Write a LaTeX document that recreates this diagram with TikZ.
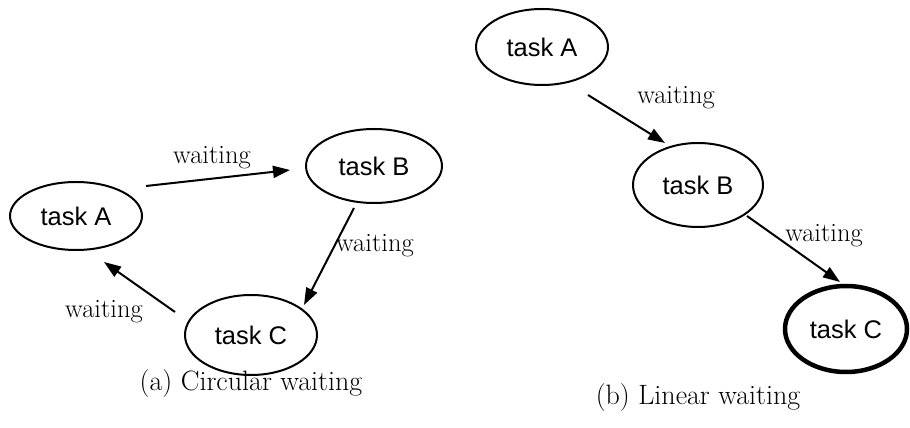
\documentclass[tikz,border=0pt]{standalone}
\usepackage{fontspec}
\newfontfamily\helv{Liberation Sans}
\usetikzlibrary{arrows.meta,calc,shapes.geometric}
\tikzset{
  task/.style={ellipse,draw,line width=2pt,inner sep=0pt,font=\helv\fontsize{25.5}{28}\selectfont},
  arr/.style={line width=2pt,-{Triangle[length=17pt,width=12pt]}},
  lbl/.style={font=\fontsize{26.5}{30}\selectfont,inner sep=0pt},
  captext/.style={font=\fontsize{28}{32}\selectfont,inner sep=0pt}
}
\begin{document}
\begin{tikzpicture}[x=1pt,y=1pt]
\useasboundingbox (0,0) rectangle (910,428);
% (a) circular
\node[task,minimum width=132pt,minimum height=68pt] (lA) at (76,212) {task A};
\node[task,minimum width=136pt,minimum height=74pt] (lB) at (374,262) {task B};
\node[task,minimum width=132pt,minimum height=80pt] (lC) at (251,93) {task C};
\draw[arr] ($(lA)+(70,30)$) -- ($(lB)+(-84,-4)$);
\draw[arr] ($(lB)+(-20,-42)$) -- ($(lC)+(53,30)$);
\draw[arr] ($(lC)+(-76,23)$) -- ($(lA)+(28,-46)$);
\node[lbl] (la1) at (212,270) {waiting};
\node[lbl,anchor=west] (la2) at (336,182) {waiting};
\node[lbl] (la3) at (104,116) {waiting};
\node[captext] (capa) at (251,44) {(a) Circular waiting};
% (b) linear
\node[task,minimum width=132pt,minimum height=76pt] (rA) at (542,381) {task A};
\node[task,minimum width=130pt,minimum height=84pt] (rB) at (698,243) {task B};
\node[task,line width=4.5pt,minimum width=122pt,minimum height=86pt] (rC) at (846,99) {task C};
\draw[arr] ($(rA)+(46,-48)$) -- ($(rB)+(-33,42)$);
\draw[arr] ($(rB)+(49,-31)$) -- ($(rC)+(-6,47)$);
\node[lbl] (lb1) at (676,330) {waiting};
\node[lbl] (lb2) at (824,192) {waiting};
\node[captext] (capb) at (698,30) {(b) Linear waiting};
\end{tikzpicture}
\end{document}
